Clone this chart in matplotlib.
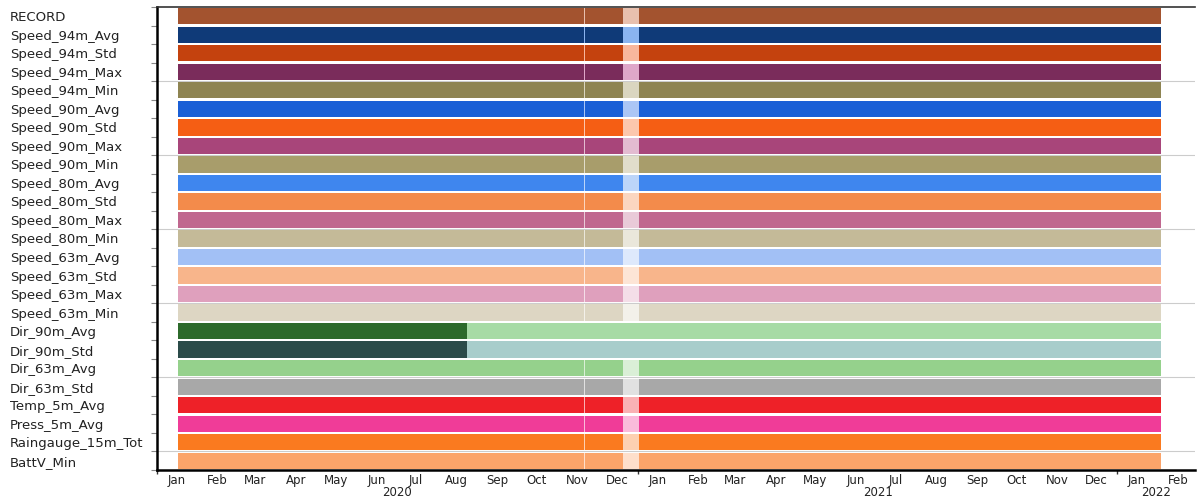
import colorsys

import matplotlib
matplotlib.use("Agg")
import matplotlib.pyplot as plt
import matplotlib.dates as mdates
import matplotlib.transforms as mtransforms
import pandas as pd
from matplotlib.colors import to_rgb

# channels, top to bottom
rows = ["RECORD",
        "Speed_94m_Avg", "Speed_94m_Std", "Speed_94m_Max", "Speed_94m_Min",
        "Speed_90m_Avg", "Speed_90m_Std", "Speed_90m_Max", "Speed_90m_Min",
        "Speed_80m_Avg", "Speed_80m_Std", "Speed_80m_Max", "Speed_80m_Min",
        "Speed_63m_Avg", "Speed_63m_Std", "Speed_63m_Max", "Speed_63m_Min",
        "Dir_90m_Avg", "Dir_90m_Std", "Dir_63m_Avg", "Dir_63m_Std",
        "Temp_5m_Avg", "Press_5m_Avg", "Raingauge_15m_Tot", "BattV_Min"]

colors = ["#a3532f",
          "#0f3a78", "#c4420e", "#7a2c5b", "#8e8452",
          "#1a5fd6", "#f55e14", "#a8457a", "#a89d6b",
          "#3f86ee", "#f38b4b", "#c0678f", "#c4ba98",
          "#a2c0f5", "#f8b58b", "#dfa0bd", "#ddd6c3",
          "#2d6a2b", "#2b4b49", "#95d18c", "#a8a8a8",
          "#ee2128", "#f03c98", "#fa7a1f", "#fba46a"]

# recording period and periods with no data
record_start = "2020-01-17"
record_end = "2022-02-03"
gaps = [("2020-11-21 00:00", "2020-11-21 18:00"),
        ("2020-12-21", "2021-01-02")]
# channels that stopped before the end of the record
last_valid = {"Dir_90m_Avg": "2020-08-24", "Dir_90m_Std": "2020-08-24"}

view_start = "2020-01-01"
view_end = "2022-03-01"


def tint(c, f=0.65):
    h, l, s = colorsys.rgb_to_hls(*to_rgb(c))
    return colorsys.hls_to_rgb(h, l + (1 - l) * f, s)


def d2n(t):
    return mdates.date2num(pd.Timestamp(t))


def valid_spans(start, stop):
    spans = [(d2n(start), d2n(stop))]
    for a, b in gaps:
        a, b = d2n(a), d2n(b)
        out = []
        for s, e in spans:
            if b <= s or a >= e:
                out.append((s, e))
                continue
            if a > s:
                out.append((s, a))
            if b < e:
                out.append((b, e))
        spans = out
    return [(s, e - s) for s, e in spans]


fig = plt.figure(figsize=(11.98, 4.99), dpi=100)
ax = fig.add_axes([157 / 1198, 29 / 499, 1038 / 1198, 463 / 499])

h = 0.88
t0, t1 = d2n(record_start), d2n(record_end)
for i, (name, col) in enumerate(zip(rows, colors)):
    # whole record in a pale shade, valid data over it
    ax.broken_barh([(t0, t1 - t0)], (i - h / 2, h), facecolors=tint(col),
                   edgecolor="none", linewidth=0, zorder=2)
    stop = last_valid.get(name, record_end)
    ax.broken_barh(valid_spans(record_start, stop), (i - h / 2, h),
                   facecolors=col, edgecolor="none", linewidth=0, zorder=3)

ax.set_xlim(d2n(view_start), d2n(view_end))
ax.set_ylim(len(rows) - 0.5, -0.5)

# row names on the left, boundary ticks between rows
ax.set_yticks(range(len(rows)))
ax.set_yticklabels(rows, ha="left", fontsize=9.5, color="#222222")
ax.tick_params(axis="y", which="major", length=0, pad=106)
ax.set_yticks([i + 0.5 for i in range(-1, len(rows))], minor=True)
ax.tick_params(axis="y", which="minor", length=4, width=0.8, color="#888888")
for b in range(3, len(rows), 4):
    ax.axhline(b + 0.5, color="#cccccc", lw=0.8, zorder=0)

# months at mid-month, year ticks at Jan 1
ax.xaxis.set_major_locator(mdates.YearLocator())
ax.xaxis.set_major_formatter(plt.NullFormatter())
ax.xaxis.set_minor_locator(mdates.MonthLocator(bymonthday=16))
ax.xaxis.set_minor_formatter(mdates.DateFormatter("%b"))
ax.tick_params(axis="x", which="major", length=3, width=1, color="#333333")
ax.tick_params(axis="x", which="minor", length=0, pad=3, labelsize=8.5,
               labelcolor="#222222")

trans = mtransforms.blended_transform_factory(ax.transData, ax.transAxes)
x0, x1 = ax.get_xlim()
for yr in (2020, 2021, 2022):
    a = max(d2n(f"{yr}-01-01"), x0)
    b = min(d2n(f"{yr + 1}-01-01"), x1)
    ax.text((a + b) / 2, -0.048, str(yr), transform=trans, ha="center",
            va="center", fontsize=8.5, color="#222222")

for side in ("left", "bottom"):
    ax.spines[side].set_linewidth(1.8)
    ax.spines[side].set_color("black")
ax.spines["top"].set_linewidth(1.2)
ax.spines["top"].set_color("#333333")
ax.spines["right"].set_visible(False)

fig.savefig("out.png", dpi=100)
